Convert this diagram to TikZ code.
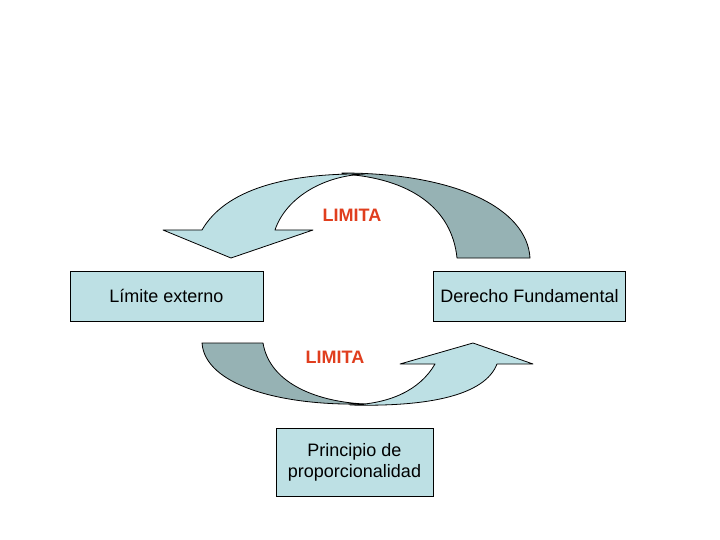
\documentclass[tikz,border=0pt]{standalone}
\usepackage{fontspec}
\setmainfont{Liberation Sans}
\begin{document}
\begin{tikzpicture}[x=1pt,y=-1pt,
  lightc/.style={fill=lightfill,draw=black,line width=0.8pt,line join=round},
  darkc/.style={fill=darkfill,draw=black,line width=0.8pt,line join=round},
  boxnode/.style={draw=black,fill=lightfill,line width=0.8pt,inner sep=0pt,font=\fontsize{18}{21}\selectfont},
  limlabel/.style={text=limred,font=\fontsize{18}{21}\selectfont\bfseries,inner sep=0pt}]
\definecolor{lightfill}{RGB}{189,224,228}
\definecolor{darkfill}{RGB}{150,178,180}
\definecolor{limred}{RGB}{224,62,30}
\useasboundingbox (0,0) rectangle (720,540);
\fill[white] (0,0) rectangle (720,540);
% top curved arrow: dark back part
\path[darkc] (342,173) .. controls (455,173) and (527,208) .. (530,258)
  -- (457,258) .. controls (452,208) and (410,178) .. (342,174) -- cycle;
% top curved arrow: light front part with head
\path[lightc] (202,230) .. controls (225,190) and (285,173) .. (365,174)
  .. controls (320,176) and (285,200) .. (275,230)
  -- (313,230) -- (231,258) -- (163,230) -- cycle;
% bottom curved arrow: dark back part
\path[darkc] (202,343) -- (263,343) .. controls (270,385) and (320,402) .. (365,404)
  .. controls (280,406) and (205,385) .. (202,343) -- cycle;
% bottom curved arrow: light front part with head
\path[lightc] (350,405) .. controls (390,404) and (420,390) .. (435,364)
  -- (400,364) -- (473,343) -- (533,364) -- (497,364)
  .. controls (485,395) and (430,407) .. (350,405) -- cycle;
% boxes
\node[boxnode,minimum width=193,minimum height=50] (lim) at (166.5,296) {Límite externo};
\node[boxnode,minimum width=192,minimum height=50] (der) at (529.5,296) {Derecho Fundamental};
\node[boxnode,minimum width=157,minimum height=68,align=center] (pri) at (354.5,462) {Principio de\\proporcionalidad};
% labels
\node[limlabel] (l1) at (352,215) {LIMITA};
\node[limlabel] (l2) at (335,357.5) {LIMITA};
\end{tikzpicture}
\end{document}
